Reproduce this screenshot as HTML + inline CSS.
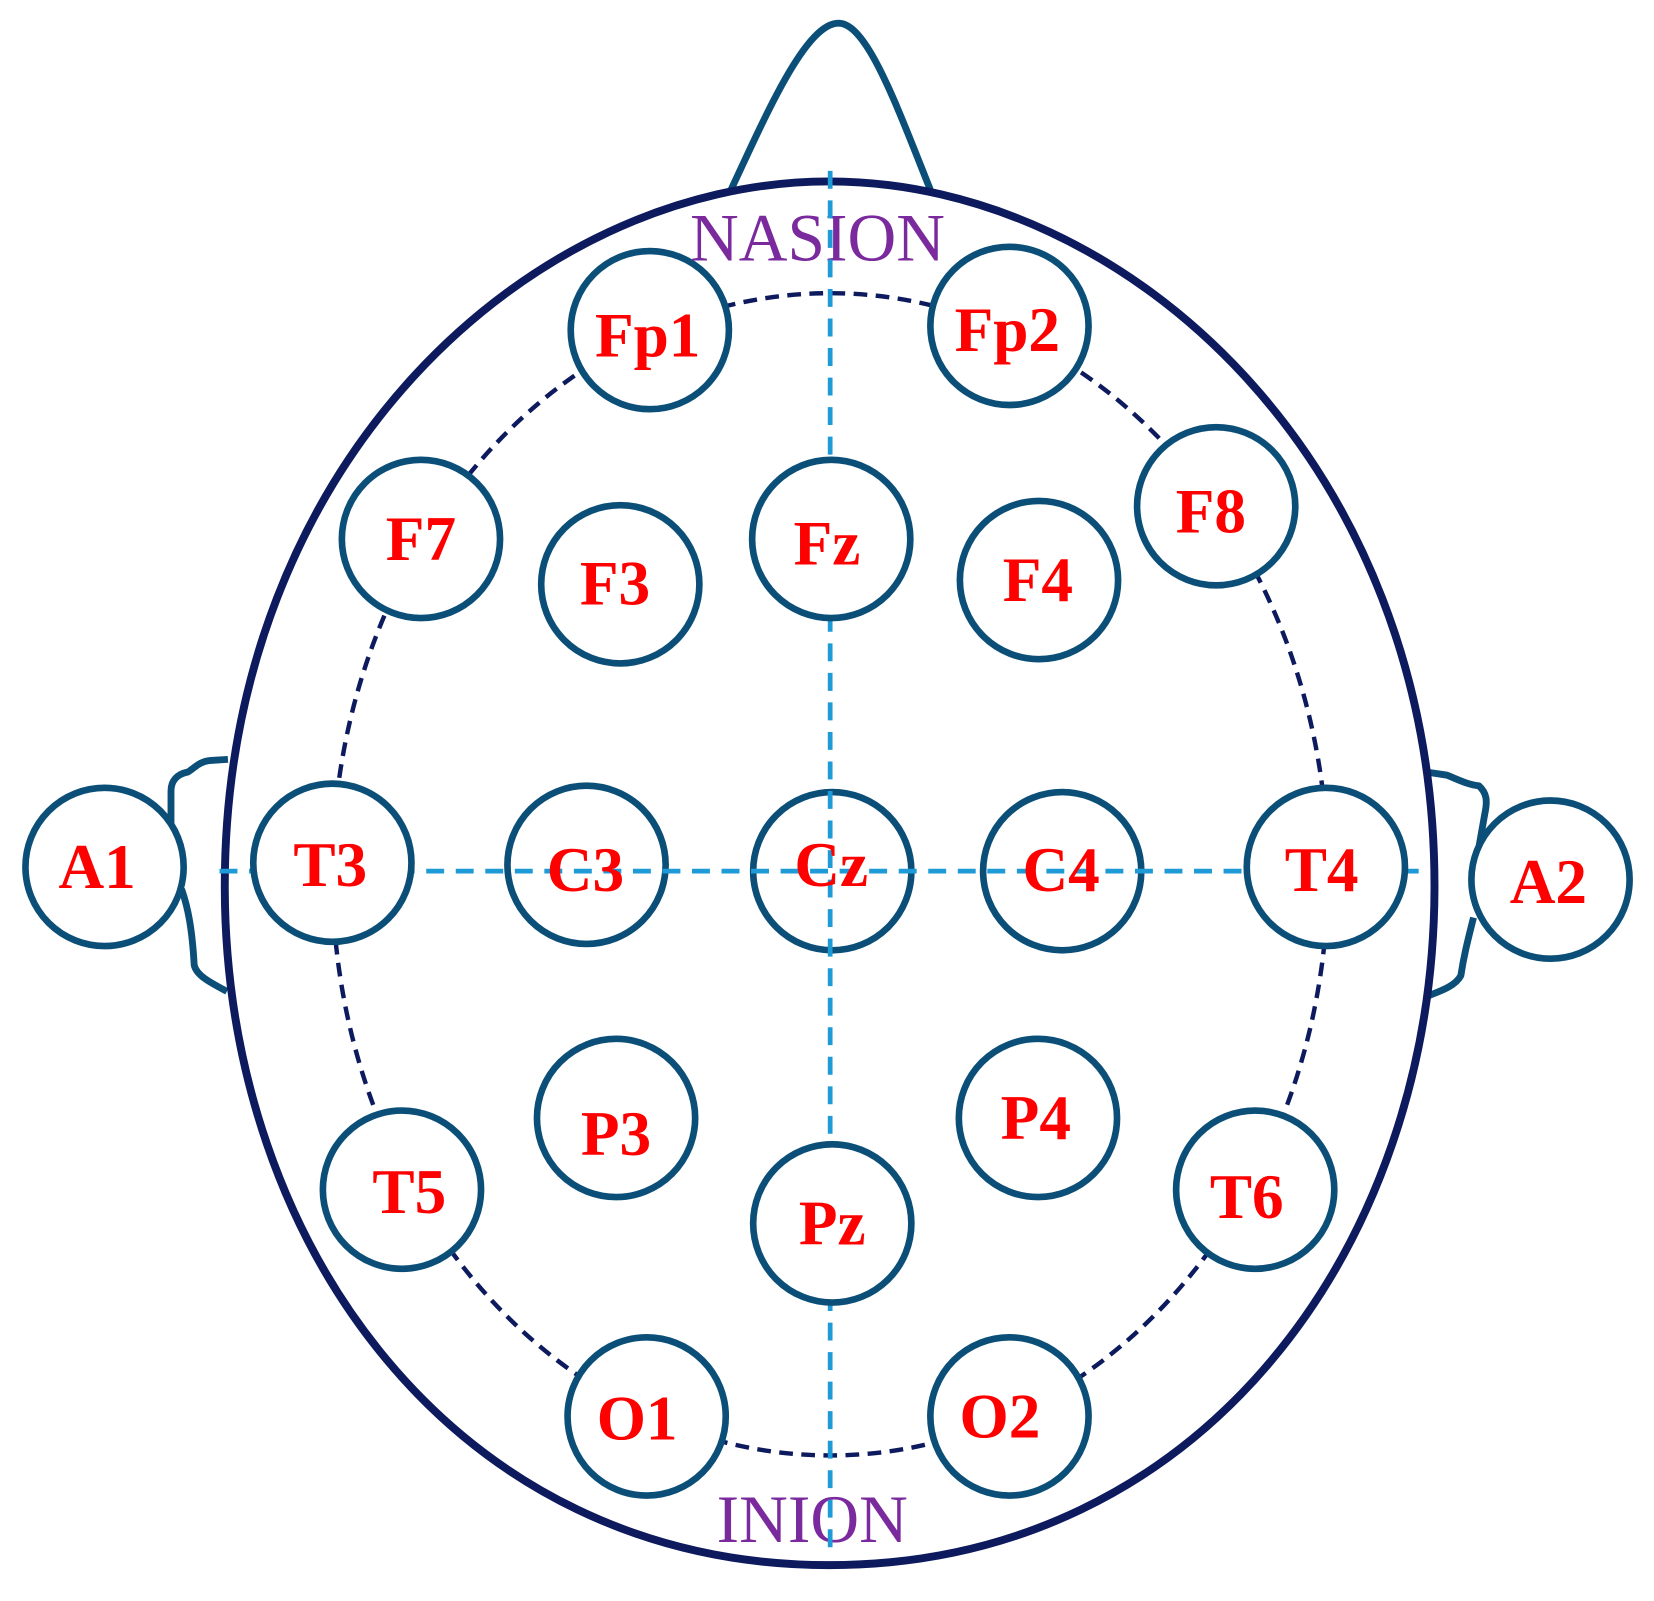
<!DOCTYPE html>
<html><head><meta charset="utf-8"><style>html,body{margin:0;padding:0;background:#fff}svg{display:block}
.lbl{font-family:"Liberation Serif","Times New Roman",serif;font-weight:bold;fill:#ff0000;font-size:60px}
.pur{font-family:"Liberation Serif","Times New Roman",serif;fill:#7b2a9e;font-size:64px}</style></head>
<body>
<svg width="1654" height="1601" viewBox="0 0 1568 1518" xmlns="http://www.w3.org/2000/svg">
<rect width="1568" height="1518" fill="#fff"/>
<g fill="none" stroke="#0b4f78" stroke-width="6.5" stroke-linejoin="round">
<path d="M693,180 C730,100 765,22 795,22 C822,22 850,100 882,180"/>
<path d="M216,720 L200,721 C188,722 185,728 178,732 C168,734 162,740 162,750 L162,795 M172,843 C178,860 182,880 184,915 C186,925 200,932 215,940"/>
<path d="M1352,732 L1372,735 C1384,740 1392,744 1402,745 C1410,752 1410,760 1408,770 L1400,815 M1397,870 C1392,890 1388,905 1385,925 C1380,935 1365,940 1352,945"/>
</g>
<path d="M786,172 C1070,172 1360,440 1360,840 C1360,1180 1140,1484 786,1484 C432,1484 213,1180 213,840 C213,440 502,172 786,172 Z" fill="none" stroke="#0d1a5e" stroke-width="7.5"/>
<ellipse cx="787" cy="829" rx="472" ry="551" fill="none" stroke="#0d1a5e" stroke-width="4.2" stroke-dasharray="13 8"/>
<g fill="#fff" stroke="#0b4f78" stroke-width="6.3">
<circle cx="616" cy="313" r="75"/><circle cx="957" cy="309" r="75"/>
<circle cx="399" cy="511" r="75"/><circle cx="588" cy="554" r="75"/>
<circle cx="985" cy="550" r="75"/><circle cx="1153" cy="480" r="75"/>
<circle cx="556" cy="820" r="75"/><circle cx="789" cy="826" r="75"/><circle cx="1007" cy="826" r="75"/>
<circle cx="584" cy="1060" r="75"/><circle cx="984" cy="1060" r="75"/>
<circle cx="381" cy="1128" r="75"/><circle cx="1190" cy="1128" r="75"/>
<circle cx="613" cy="1343" r="75"/><circle cx="957" cy="1343" r="75"/>
</g>
<g text-anchor="middle">
<text class="pur" x="775" y="247">NASION</text>
<text class="pur" x="770" y="1462">INION</text>
</g>
<g stroke="#1e9ad6" stroke-width="4.5" stroke-dasharray="17 11">
<line x1="787" y1="162" x2="787" y2="1475"/>
<line x1="208" y1="826" x2="1355" y2="826"/>
</g>
<g fill="#fff" stroke="#0b4f78" stroke-width="6.3">
<circle cx="788" cy="511" r="75"/><circle cx="789" cy="1160" r="75"/>
<circle cx="315" cy="818" r="75"/><circle cx="1257" cy="822" r="75"/>
<circle cx="99" cy="822" r="75"/><circle cx="1470" cy="834" r="75"/>
</g>
<g text-anchor="middle">
<text class="lbl" x="614" y="338">Fp1</text><text class="lbl" x="955" y="333">Fp2</text>
<text class="lbl" x="399" y="531">F7</text><text class="lbl" x="583" y="573">F3</text><text class="lbl" x="784" y="535">Fz</text>
<text class="lbl" x="984" y="570">F4</text><text class="lbl" x="1148" y="505">F8</text>
<text class="lbl" x="92" y="842">A1</text><text class="lbl" x="313" y="840">T3</text><text class="lbl" x="555" y="845">C3</text>
<text class="lbl" x="788" y="840">Cz</text><text class="lbl" x="1006" y="845">C4</text><text class="lbl" x="1253" y="845">T4</text>
<text class="lbl" x="1468" y="856">A2</text>
<text class="lbl" x="584" y="1095">P3</text><text class="lbl" x="982" y="1080">P4</text>
<text class="lbl" x="388" y="1150">T5</text><text class="lbl" x="789" y="1180">Pz</text><text class="lbl" x="1182" y="1155">T6</text>
<text class="lbl" x="604" y="1365">O1</text><text class="lbl" x="948" y="1363">O2</text>
</g>
</svg>
</body></html>
